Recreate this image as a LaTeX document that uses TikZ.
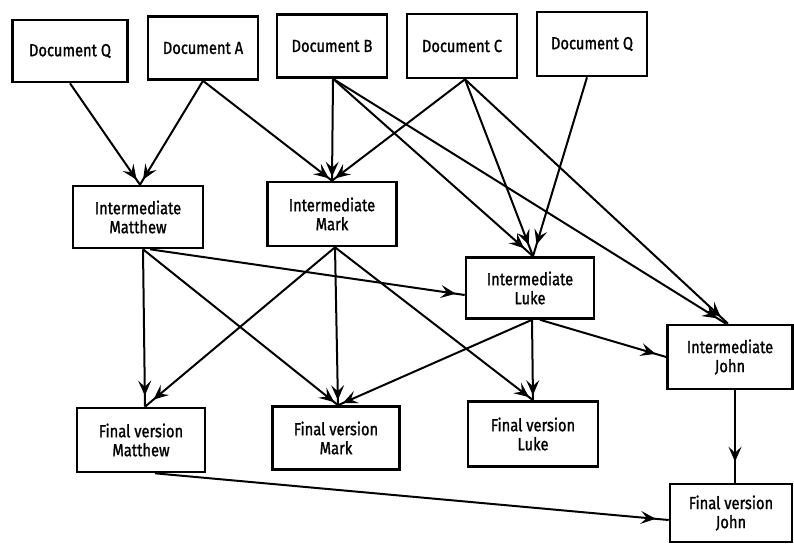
\documentclass[tikz,border=0pt]{standalone}
\usepackage{fontspec}
\setmainfont{Fira Sans}[FakeStretch=0.84,FakeBold=1.2]
\usetikzlibrary{arrows.meta,decorations.markings}
\tikzset{
  box/.style={draw, line width=2.6pt, align=center, inner sep=0pt,
    font=\fontsize{17.5}{19}\selectfont},
  edge/.style={line width=2pt},
  arr/.style={edge, postaction={decorate}, decoration={markings,
    mark=at position -#1 with {\arrow[line width=1.4pt]{Stealth[length=15pt,width=13pt,inset=6pt]}}}},
  arr/.default=8pt
}
\begin{document}
\begin{tikzpicture}[x=1pt,y=-1pt]
\useasboundingbox (0,0) rectangle (794,543);
% top documents
\node[box, minimum width=115pt, minimum height=62pt] (dq1) at (70,51) {Document Q};
\node[box, minimum width=110pt, minimum height=63pt] (da) at (203,48) {Document A};
\node[box, minimum width=110pt, minimum height=63pt] (db) at (332,46) {Document B};
\node[box, minimum width=110pt, minimum height=64pt] (dc) at (462,46) {Document C};
\node[box, minimum width=110pt, minimum height=64pt] (dq2) at (592,44) {Document Q};
% intermediates
\node[box, minimum width=130pt, minimum height=62pt] (imt) at (138,217) {Intermediate\\Matthew};
\node[box, minimum width=129pt, minimum height=64pt] (imk) at (332,214) {Intermediate\\Mark};
\node[box, minimum width=128pt, minimum height=61pt] (ilk) at (530,288) {Intermediate\\Luke};
\node[box, minimum width=125pt, minimum height=64pt] (ijn) at (730,357) {Intermediate\\John};
% finals
\node[box, minimum width=128pt, minimum height=64pt] (fmt) at (141,440) {Final version\\Matthew};
\node[box, minimum width=127pt, minimum height=63pt] (fmk) at (336,438) {Final version\\Mark};
\node[box, minimum width=130pt, minimum height=65pt] (flk) at (533,434) {Final version\\Luke};
\node[box, minimum width=122pt, minimum height=58pt] (fjn) at (731,513) {Final version\\John};
% document -> intermediate
\draw[arr=6pt] (dq1.south) -- ([xshift=2pt]imt.north);
\draw[arr=6pt] (da.south) -- ([xshift=2pt]imt.north);
\draw[arr=4pt] (da.south) -- (imk.north);
\draw[arr=4pt] ([xshift=1pt]db.south) -- (imk.north);
\draw[arr=4pt] ([xshift=3pt]dc.south) -- (imk.north);
\draw[arr=12pt] ([xshift=1pt]db.south) -- ([xshift=3pt]ilk.north);
\draw[arr=12pt] ([xshift=3pt]dc.south) -- ([xshift=3pt]ilk.north);
\draw[arr=12pt] ([xshift=-5pt]dq2.south) -- ([xshift=3pt]ilk.north);
\draw[arr=10pt] ([xshift=1pt]db.south) -- ([xshift=-4pt]ijn.north);
\draw[arr=10pt] ([xshift=3pt]dc.south) -- ([xshift=-2pt]ijn.north);
% intermediate -> others
\draw[arr=9pt] ([xshift=12pt]imt.south) -- ([yshift=-7pt]ilk.west);
\draw[arr=11pt] ([xshift=5pt]imt.south) -- ([xshift=4pt]fmt.north);
\draw[arr=5pt] ([xshift=5pt]imt.south) -- ([xshift=2pt]fmk.north);
\draw[arr=11pt] ([xshift=3pt]imk.south) -- ([xshift=4pt]fmt.north);
\draw[arr=5pt] ([xshift=3pt]imk.south) -- ([xshift=2pt]fmk.north);
\draw[arr=5pt] ([xshift=3pt]imk.south) -- (flk.north);
\draw[arr=5pt] ([xshift=2pt]ilk.south) -- ([xshift=2pt]fmk.north);
\draw[arr=5pt] ([xshift=2pt]ilk.south) -- (flk.north);
\draw[arr=11pt] ([xshift=10pt]ilk.south) -- (ijn.west);
\draw[arr=21pt] ([xshift=5pt]ijn.south) -- ([xshift=4pt]fjn.north);
\draw[arr=13pt] ([xshift=14pt]fmt.south) -- ([yshift=-7pt]fjn.west);
\end{tikzpicture}
\end{document}
